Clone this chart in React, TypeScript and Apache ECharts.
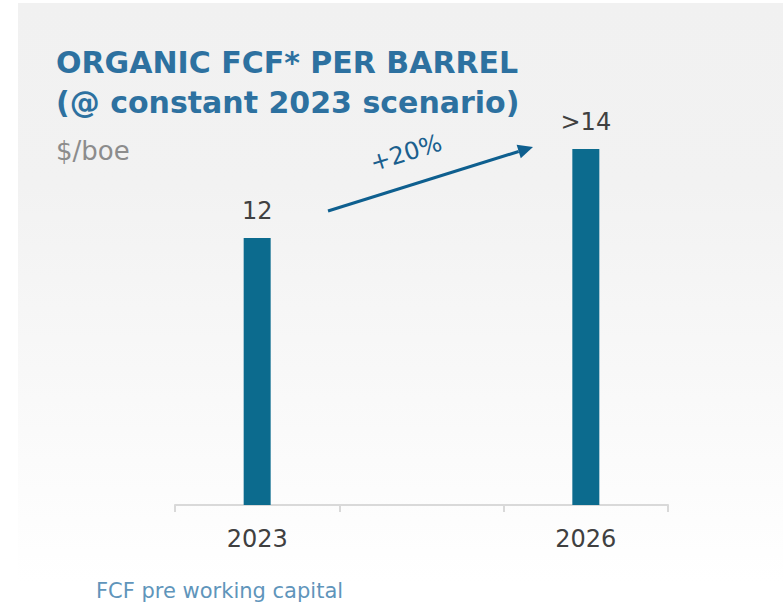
import React, { useEffect, useRef } from "react";
import * as echarts from "echarts";

const categories = ["2023", "", "2026"];
const barValues = [12, null, 16];
const barLabels = ["12", "", ">14"];
const growthLabel = "+20%";
const titleLines = ["ORGANIC FCF* PER BARREL", "(@ constant 2023 scenario)"];
const unitLabel = "$/boe";
const footnote = "FCF pre working capital";

const FONT = "'DejaVu Sans', 'Open Sans', sans-serif";

export default function App() {
  const ref = useRef<HTMLDivElement>(null);
  useEffect(() => {
    if (!ref.current) return;
    const chart = echarts.init(ref.current, null, { renderer: "svg" });
    const arrowStart = [328, 211];
    const arrowEnd = [533, 147];
    const ang = Math.atan2(arrowEnd[1] - arrowStart[1], arrowEnd[0] - arrowStart[0]);
    const hl = 15, hw = 7;
    const bx = arrowEnd[0] - hl * Math.cos(ang);
    const by = arrowEnd[1] - hl * Math.sin(ang);
    const px = -Math.sin(ang), py = Math.cos(ang);
    chart.setOption({
      animation: false,
      backgroundColor: "#ffffff",
      grid: { left: 175, right: 115, top: 60, bottom: 108 },
      xAxis: {
        type: "category",
        data: categories,
        boundaryGap: true,
        axisLine: { show: true, lineStyle: { color: "#d9d9d9", width: 2 } },
        axisTick: { show: true, length: 7, lineStyle: { color: "#d9d9d9", width: 2 } },
        axisLabel: { color: "#404040", fontSize: 24, fontFamily: FONT, margin: 22 },
      },
      yAxis: { type: "value", min: 0, max: 20, show: false, splitLine: { show: false } },
      graphic: [
        {
          type: "rect",
          z: -10,
          silent: true,
          shape: { x: 18, y: 3, width: 765, height: 610 },
          style: {
            fill: new echarts.graphic.LinearGradient(0, 0, 0, 1, [
              { offset: 0, color: "#f1f1f1" },
              { offset: 0.3, color: "#f2f2f2" },
              { offset: 0.95, color: "#ffffff" },
              { offset: 1, color: "#ffffff" },
            ]),
          },
        },
        {
          type: "text",
          x: 56,
          y: 42,
          style: {
            text: titleLines.join("\n"),
            fill: "#2d71a0",
            font: `bold 30px ${FONT}`,
            lineHeight: 40,
          },
        },
        {
          type: "text",
          x: 56,
          y: 138,
          style: { text: unitLabel, fill: "#8c8c8c", font: `26px ${FONT}` },
        },
        {
          type: "text",
          x: 96,
          y: 580,
          style: { text: footnote, fill: "#5f95bb", font: `21px ${FONT}` },
        },
        {
          type: "line",
          shape: { x1: arrowStart[0], y1: arrowStart[1], x2: bx, y2: by },
          style: { stroke: "#0e5f8f", lineWidth: 3 },
        },
        {
          type: "polygon",
          shape: {
            points: [
              arrowEnd,
              [bx + px * hw, by + py * hw],
              [bx - px * hw, by - py * hw],
            ],
          },
          style: { fill: "#0e5f8f" },
        },
        {
          type: "text",
          x: 406,
          y: 153,
          rotation: -ang,
          style: {
            text: growthLabel,
            fill: "#1a5f8e",
            font: `24px ${FONT}`,
            align: "center",
            verticalAlign: "middle",
          },
        },
      ],
      series: [
        {
          type: "bar",
          data: barValues,
          barWidth: 27,
          itemStyle: { color: "#0c6b8e" },
          label: {
            show: true,
            position: "top",
            distance: 15,
            color: "#404040",
            fontSize: 24,
            fontFamily: FONT,
            formatter: (p: any) => barLabels[p.dataIndex],
          },
        },
      ],
    });
    return () => chart.dispose();
  }, []);
  return (
    <div
      ref={ref}
      style={{ position: "fixed", left: 0, top: 0, width: 783, height: 613 }}
    />
  );
}
